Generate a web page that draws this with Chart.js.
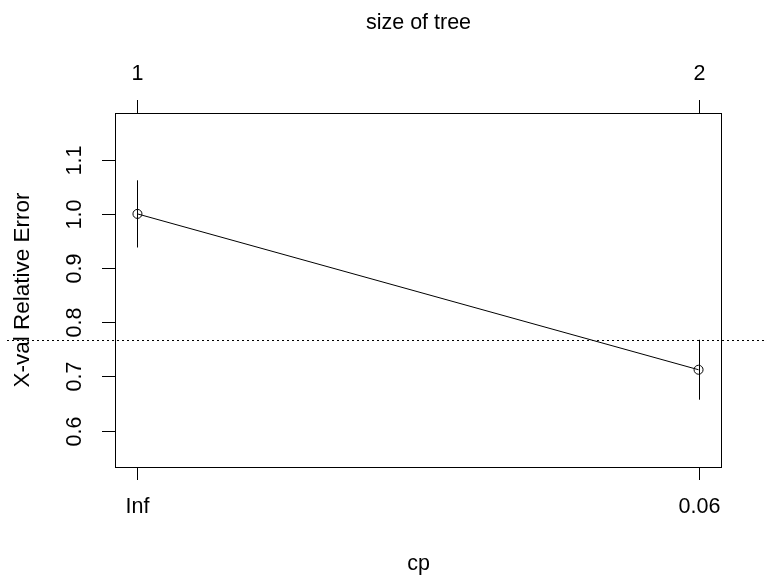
<!DOCTYPE html>
<html>
<head>
<meta charset="utf-8">
<script src="https://cdn.jsdelivr.net/npm/chart.js@4.4.1/dist/chart.umd.min.js"></script>
<style>
  html, body { margin: 0; padding: 0; background: #fff; }
  #wrap { width: 766px; height: 580px; }
</style>
</head>
<body>
<div id="wrap"><canvas id="cp" width="766" height="580"></canvas></div>
<script>
// Cross-validation results of the pruning sequence
const treeSizes = [1, 2];              // top axis: number of terminal nodes
const cpLabels = ['Inf', '0.06'];      // bottom axis: complexity parameter
const xError = [1.0, 0.7124];          // cross-validated relative error
const xStd = [0.062, 0.0553];          // its standard error
const yTickValues = [0.6, 0.7, 0.8, 0.9, 1.0, 1.1];
const yTickLabels = ['0.6', '0.7', '0.8', '0.9', '1.0', '1.1'];

// y range as rpart::plotcp builds it, plus the usual 4% axis extension
const lo = Math.min(...xError.map((v, i) => v - xStd[i])) - 0.1;
const hi = Math.max(...xError.map((v, i) => v + xStd[i])) + 0.1;
const ext = (hi - lo) * 0.04;
const xExt = (treeSizes[treeSizes.length - 1] - treeSizes[0]) * 0.04;

// 1-SE rule reference line
const best = xError.indexOf(Math.min(...xError));
const threshold = xError[best] + xStd[best];

const FONT = '21.5px "Liberation Sans", Arial, sans-serif';
const TITLE_FONT = '22.5px "Liberation Sans", Arial, sans-serif';
const INK = '#000';

const rPlot = {
  id: 'rPlot',
  afterDatasetsDraw(chart) {
    const { ctx, chartArea: a, scales: { x, y } } = chart;
    ctx.save();
    ctx.strokeStyle = INK;
    ctx.fillStyle = INK;
    ctx.lineWidth = 1;

    // error bars
    xError.forEach((v, i) => {
      const px = Math.round(x.getPixelForValue(treeSizes[i])) + 0.5;
      ctx.beginPath();
      ctx.moveTo(px, y.getPixelForValue(v + xStd[i]));
      ctx.lineTo(px, y.getPixelForValue(v - xStd[i]));
      ctx.stroke();
    });

    // dotted threshold line across the whole figure
    const ty = Math.round(y.getPixelForValue(threshold)) + 0.5;
    ctx.setLineDash([2, 3]);
    ctx.beginPath();
    ctx.moveTo(7, ty);
    ctx.lineTo(chart.width, ty);
    ctx.stroke();
    ctx.setLineDash([]);

    // frame
    ctx.strokeRect(Math.round(a.left) + 0.5, Math.round(a.top) + 0.5,
                   Math.round(a.right - a.left), Math.round(a.bottom - a.top));

    ctx.font = FONT;
    ctx.textAlign = 'center';
    ctx.textBaseline = 'middle';

    // bottom axis (cp) and top axis (size of tree)
    treeSizes.forEach((s, i) => {
      const px = Math.round(x.getPixelForValue(s)) + 0.5;
      ctx.beginPath();
      ctx.moveTo(px, a.bottom);
      ctx.lineTo(px, a.bottom + 13);
      ctx.moveTo(px, a.top);
      ctx.lineTo(px, a.top - 13);
      ctx.stroke();
      ctx.fillText(cpLabels[i], px, a.bottom + 40);
      ctx.fillText(String(s), px, a.top - 39);
    });

    // left axis, labels parallel to the axis
    yTickValues.forEach((v, i) => {
      const py = Math.round(y.getPixelForValue(v)) + 0.5;
      ctx.beginPath();
      ctx.moveTo(a.left, py);
      ctx.lineTo(a.left - 13, py);
      ctx.stroke();
      ctx.save();
      ctx.translate(a.left - 40, py);
      ctx.rotate(-Math.PI / 2);
      ctx.fillText(yTickLabels[i], 0, 0);
      ctx.restore();
    });

    // axis titles
    const cx = (a.left + a.right) / 2;
    ctx.fillText('cp', cx + 0.5, a.bottom + 97);
    ctx.fillText('size of tree', cx + 0.5, a.top - 90);
    ctx.font = TITLE_FONT;
    ctx.save();
    ctx.translate(23, (a.top + a.bottom) / 2);
    ctx.rotate(-Math.PI / 2);
    ctx.fillText('X-val Relative Error', 0, 0);
    ctx.restore();

    ctx.restore();
  }
};

new Chart(document.getElementById('cp'), {
  type: 'line',
  data: {
    datasets: [{
      data: treeSizes.map((s, i) => ({ x: s, y: xError[i] })),
      borderColor: INK,
      borderWidth: 1,
      tension: 0,
      pointRadius: 4.5,
      pointStyle: 'circle',
      pointBackgroundColor: 'rgba(0,0,0,0)',
      pointBorderColor: INK,
      pointBorderWidth: 1
    }]
  },
  options: {
    responsive: false,
    animation: false,
    events: [],
    layout: { padding: { left: 115, top: 113, right: 45, bottom: 113 } },
    plugins: { legend: { display: false }, tooltip: { enabled: false } },
    scales: {
      x: { type: 'linear', display: false,
           min: treeSizes[0] - xExt, max: treeSizes[treeSizes.length - 1] + xExt },
      y: { type: 'linear', display: false, min: lo - ext, max: hi + ext }
    }
  },
  plugins: [rPlot]
});
</script>
</body>
</html>
